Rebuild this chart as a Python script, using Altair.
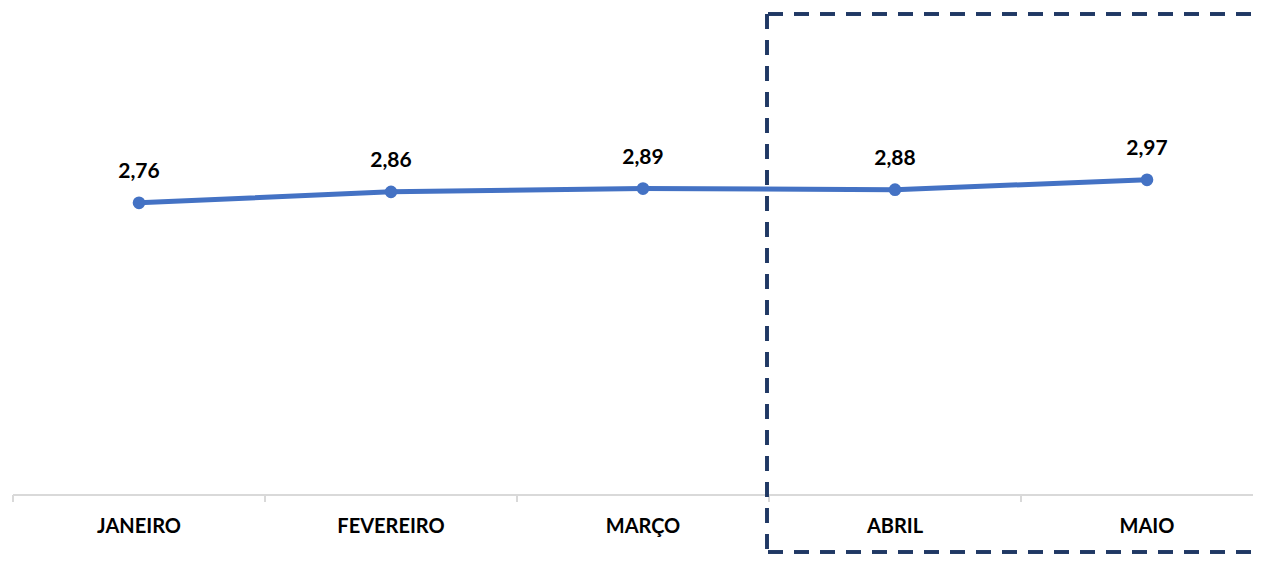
import altair as alt
import pandas as pd

months = ["JANEIRO", "FEVEREIRO", "MARÇO", "ABRIL", "MAIO"]
values = [2.76, 2.86, 2.89, 2.88, 2.97]

df = pd.DataFrame({
    "mes": months,
    "valor": values,
    "rotulo": [f"{v:.2f}".replace(".", ",") for v in values],
})

FONT = "Lato"
LINE = "#4472C4"
BOX = "#203864"
GRAY = "#D9D9D9"

xscale = alt.Scale(domain=months, range=[0, 1260], paddingInner=0, paddingOuter=0)
x = alt.X("mes:N", sort=months, title=None, scale=xscale, axis=None)
y = alt.Y("valor:Q", title=None, axis=None,
          scale=alt.Scale(domain=[0.09, 4.54], zero=False, nice=False))

base = alt.Chart(df)
line = base.mark_line(color=LINE, strokeWidth=5).encode(x=x, y=y)
pts = base.mark_circle(color=LINE, size=160, opacity=1).encode(x=x, y=y)
txt = base.mark_text(font=FONT, fontSize=21, fontWeight="bold", color="#000000",
                     dy=-31, baseline="middle").encode(x=x, y=y, text="rotulo:N")

# category labels under the baseline
cat = base.mark_text(font=FONT, fontSize=20, fontWeight="bold", color="#000000",
                     baseline="middle").encode(x=x, y=alt.value(519), text="mes:N")

# axis baseline and boundary ticks
domain_line = base.mark_rule(color=GRAY, strokeWidth=2).encode(
    x=alt.value(0), x2=alt.value(1240), y=alt.value(487))
ticks = base.mark_rule(color=GRAY, strokeWidth=2).encode(
    x=alt.X("mes:N", sort=months, scale=xscale, bandPosition=0, axis=None),
    y=alt.value(487), y2=alt.value(494))

dash = [15, 11]
vrule = base.mark_rule(color=BOX, strokeWidth=3, strokeDash=dash).encode(
    x=alt.value(754), y=alt.value(6), y2=alt.value(544))
top = base.mark_rule(color=BOX, strokeWidth=3, strokeDash=dash).encode(
    x=alt.value(755), x2=alt.value(1240), y=alt.value(6))
bot = base.mark_rule(color=BOX, strokeWidth=3, strokeDash=dash).encode(
    x=alt.value(755), x2=alt.value(1240), y=alt.value(544))

chart = alt.layer(line, pts, txt, cat, domain_line, ticks, vrule, top, bot).properties(
    width=1240, height=487,
    autosize=alt.AutoSizeParams(type="none"),
    padding={"left": 5, "top": 0, "right": 0, "bottom": 59},
).configure_view(stroke=None)

chart.save("out.html", embed_options={"renderer": "svg", "actions": False})
